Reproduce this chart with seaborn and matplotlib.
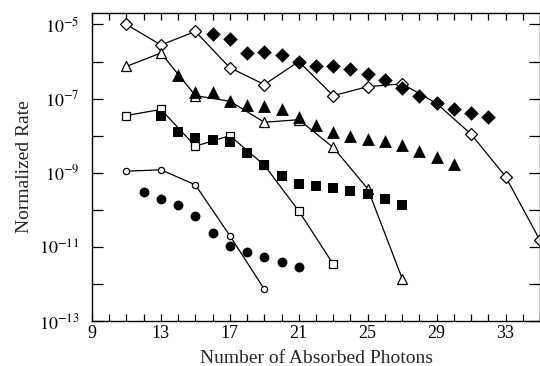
import numpy as np
import pandas as pd
import seaborn as sns
import matplotlib
matplotlib.use('Agg')
import matplotlib.pyplot as plt
from matplotlib.ticker import MultipleLocator, FixedLocator, FuncFormatter

# valori (rata normalizata)
od_x = [11, 13, 15, 17, 19, 21, 23, 25, 27, 29, 31, 33, 35]
od_y = [1.0e-5, 2.8e-6, 6.5e-6, 6.8e-7, 2.4e-7, 1.0e-6, 1.2e-7, 2.1e-7, 2.5e-7,
        7.4e-8, 1.1e-8, 7.9e-10, 1.5e-11]
fd_x = list(range(16, 33))
fd_y = [5.6e-6, 4.0e-6, 1.7e-6, 1.8e-6, 1.5e-6, 9.5e-7, 7.8e-7, 7.8e-7, 6.3e-7,
        4.5e-7, 3.1e-7, 1.9e-7, 1.15e-7, 7.4e-8, 5.1e-8, 4.0e-8, 3.2e-8]
ot_x = [11, 13, 15, 17, 19, 21, 23, 25, 27]
ot_y = [7.4e-7, 1.7e-6, 1.2e-7, 8.5e-8, 2.3e-8, 2.7e-8, 4.8e-9, 3.7e-10, 1.4e-12]
ft_x = list(range(14, 31))
ft_y = [4.3e-7, 1.5e-7, 1.5e-7, 8.5e-8, 6.9e-8, 6.5e-8, 5.1e-8, 3.2e-8, 1.9e-8,
        1.26e-8, 9.5e-9, 7.9e-9, 7.2e-9, 5.6e-9, 3.9e-9, 2.6e-9, 1.7e-9]
os_x = [11, 13, 15, 17, 19, 21, 23]
os_y = [3.5e-8, 5.1e-8, 5.2e-9, 1.0e-8, 1.6e-9, 9.3e-11, 3.4e-12]
fs_x = list(range(13, 28))
fs_y = [3.5e-8, 1.26e-8, 8.9e-9, 7.8e-9, 6.6e-9, 3.5e-9, 1.6e-9, 8.3e-10, 5.1e-10,
        4.4e-10, 3.8e-10, 3.3e-10, 2.6e-10, 1.9e-10, 1.35e-10]
oc_x = [11, 13, 15, 17, 19]
oc_y = [1.1e-9, 1.2e-9, 4.7e-10, 2.0e-11, 7.2e-13]
fc_x = list(range(12, 22))
fc_y = [3.1e-10, 2.0e-10, 1.35e-10, 6.8e-11, 2.4e-11, 1.05e-11, 7.4e-12, 5.4e-12,
        4.0e-12, 2.9e-12]

sns.set_theme(style='ticks')
plt.rcParams['font.family'] = ['Liberation Serif', 'DejaVu Serif']
plt.rcParams['mathtext.fontset'] = 'stix'

fig = plt.figure(figsize=(5.4, 3.66), dpi=100)
ax = fig.add_axes([0.1704, 0.123, 0.8296, 0.8415])

# serii cu linie (simboluri goale)
open_series = [(od_x, od_y, 'D', 6.5), (ot_x, ot_y, '^', 7), (os_x, os_y, 's', 5.5),
               (oc_x, oc_y, 'o', 4.5)]
for xs, ys, m, ms in open_series:
    d = pd.DataFrame({'x': xs, 'y': ys})
    sns.lineplot(data=d, x='x', y='y', ax=ax, color='black', lw=0.9,
                 marker=m, markersize=ms, markerfacecolor='white',
                 markeredgecolor='black', markeredgewidth=0.9, zorder=2)

# serii fara linie (simboluri pline)
filled_series = [(fd_x, fd_y, 'D', 55), (ft_x, ft_y, '^', 85), (fs_x, fs_y, 's', 55),
                 (fc_x, fc_y, 'o', 50)]
for xs, ys, m, s in filled_series:
    d = pd.DataFrame({'x': xs, 'y': ys})
    sns.scatterplot(data=d, x='x', y='y', ax=ax, color='black', marker=m, s=s,
                    edgecolor='black', linewidth=0, zorder=3)

ax.set_yscale('log')
ax.set_xlim(9, 35)
ax.set_ylim(1e-13, 10 ** -4.69)

ax.xaxis.set_major_locator(FixedLocator([9, 13, 17, 21, 25, 29, 33]))
ax.xaxis.set_minor_locator(MultipleLocator(1))
ax.yaxis.set_major_locator(FixedLocator([10.0 ** e for e in range(-13, -4)]))
ax.yaxis.set_minor_locator(FixedLocator([]))


def fmt(v, pos):
    e = int(round(np.log10(v)))
    return r'$10^{%d}$' % e if e % 2 else ''


ax.yaxis.set_major_formatter(FuncFormatter(fmt))
ax.tick_params(which='both', direction='in', top=True, right=True, colors='black',
               labelsize=13, width=0.9)
ax.tick_params(axis='x', which='both', length=5)
ax.tick_params(axis='y', which='major', length=8, pad=9)
ax.tick_params(axis='x', pad=3)
for sp in ax.spines.values():
    sp.set_linewidth(1.0)
    sp.set_color('black')

ax.set_xlabel('Number of Absorbed Photons', fontsize=14, labelpad=6)
ax.set_ylabel('Normalized Rate', fontsize=14, labelpad=4)

fig.savefig('out.png', dpi=100)
